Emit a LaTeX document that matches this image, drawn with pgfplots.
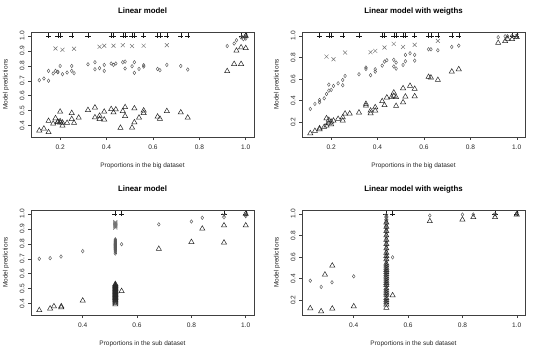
\documentclass[border=0pt]{standalone}
\usepackage{fontspec}
\setmainfont{Liberation Sans}
\usepackage{pgfplots}
\pgfplotsset{compat=1.18}

\pgfplotsset{
  rpanel/.style={
    scale only axis, width=223bp, height=105bp, anchor=south west,
    axis line style={black!75, line width=0.6bp},
    tick style={black!75, line width=0.5bp},
    tick align=outside, tick pos=left, major tick length=3bp,
    tick label style={font=\fontsize{6.6}{7}\selectfont, text=black!85},
    yticklabel style={rotate=90, anchor=south},
    xticklabel style={yshift=-1.5bp},
    /pgf/number format/.cd, fixed, fixed zerofill, precision=1, assume math mode=true, /pgfplots/.cd,
    title style={at={(axis description cs:0.5,1.143)}, anchor=center, font=\bfseries\fontsize{7.9}{9}\selectfont},
    xlabel style={at={(axis description cs:0.5,-0.276)}, anchor=center, font=\fontsize{6.5}{8}\selectfont, text=black!85},
    ylabel style={at={(axis description cs:-0.112,0.5)}, anchor=center, font=\fontsize{6.5}{8}\selectfont, text=black!85},
    ylabel={Model predictions},
    clip=false,
  },
  pplus/.style={only marks, mark=+, mark size=2.6bp, black!90, mark options={line width=0.4bp}},
  pcross/.style={only marks, mark=x, mark size=2.8bp, black!55, mark options={line width=0.45bp}},
  pdiam/.style={only marks, mark=diamond, mark size=1.8bp, black!65, mark options={line width=0.45bp, fill=none}},
  ptri/.style={only marks, mark=triangle, mark size=3bp, black!85, mark options={line width=0.5bp, fill=none}},
}

\begin{document}
\begin{tikzpicture}[x=1bp,y=1bp]
\useasboundingbox (0,0) rectangle (540,356);

% ---------- Panel 1 ----------
\begin{axis}[rpanel, at={(31bp,219bp)},
  xmin=0.0744, xmax=1.0356, ymin=0.324, ymax=1.026,
  xtick={0.2,0.4,0.6,0.8,1.0}, ytick={0.4,0.5,0.6,0.7,0.8,0.9,1.0},
  title={Linear model}, xlabel={Proportions in the big dataset}]
\addplot[pplus] coordinates {(0.15,1)(0.19,1)(0.20,1)(0.25,1)(0.32,1)(0.42,1)(0.43,1)(0.47,1)(0.48,1)(0.51,1)(0.52,1)(0.56,1)(0.62,1)(0.63,1)(0.66,1)(0.72,1)(0.75,1)(0.98,1)(1.0,1)};
\addplot[pcross] coordinates {(0.18,0.916)(0.21,0.907)(0.26,0.914)(0.37,0.927)(0.39,0.934)(0.43,0.934)(0.47,0.938)(0.51,0.932)(0.56,0.934)(0.66,0.938)(0.99,0.995)(1.0,1.0)};
\addplot[pdiam] coordinates {(0.11,0.704)(0.13,0.715)(0.15,0.700)(0.15,0.766)(0.17,0.749)(0.18,0.766)(0.19,0.760)(0.19,0.757)(0.20,0.799)(0.21,0.744)(0.23,0.755)(0.25,0.799)(0.25,0.766)(0.26,0.751)(0.32,0.810)(0.35,0.824)(0.35,0.777)(0.37,0.784)(0.39,0.806)(0.39,0.766)(0.42,0.815)(0.43,0.806)(0.44,0.815)(0.47,0.824)(0.48,0.828)(0.48,0.782)(0.51,0.797)(0.52,0.824)(0.52,0.753)(0.54,0.779)(0.56,0.804)(0.56,0.795)(0.62,0.779)(0.63,0.771)(0.66,0.806)(0.72,0.799)(0.75,0.775)(0.92,0.932)(0.95,0.949)(0.96,0.971)(0.98,0.989)(1.0,0.982)(1.0,0.996)(0.99,0.978)};
\addplot[ptri] coordinates {(0.11,0.367)(0.13,0.380)(0.15,0.356)(0.15,0.431)(0.17,0.413)(0.18,0.449)(0.19,0.426)(0.19,0.424)(0.20,0.429)(0.20,0.420)(0.21,0.42)(0.20,0.493)(0.21,0.400)(0.23,0.418)(0.25,0.484)(0.25,0.444)(0.26,0.418)(0.28,0.453)(0.32,0.504)(0.35,0.521)(0.35,0.455)(0.37,0.466)(0.37,0.444)(0.39,0.440)(0.39,0.493)(0.42,0.510)(0.43,0.488)(0.44,0.508)(0.46,0.385)(0.47,0.497)(0.48,0.523)(0.48,0.464)(0.51,0.387)(0.52,0.515)(0.52,0.422)(0.54,0.453)(0.56,0.501)(0.56,0.484)(0.62,0.460)(0.63,0.446)(0.66,0.497)(0.72,0.488)(0.75,0.453)(0.92,0.764)(0.95,0.812)(0.96,0.901)(0.98,0.812)(0.98,0.923)(1.0,0.918)(1.0,1.0)};
\end{axis}

% ---------- Panel 2 ----------
\begin{axis}[rpanel, at={(302bp,219bp)},
  xmin=0.0744, xmax=1.0356, ymin=0.064, ymax=1.036,
  xtick={0.2,0.4,0.6,0.8,1.0}, ytick={0.2,0.4,0.6,0.8,1.0},
  title={Linear model with weigths}, xlabel={Proportions in the big dataset}]
\addplot[pplus] coordinates {(0.15,1)(0.19,1)(0.20,1)(0.25,1)(0.32,1)(0.42,1)(0.43,1)(0.47,1)(0.48,1)(0.51,1)(0.52,1)(0.56,1)(0.62,1)(0.63,1)(0.66,1)(0.72,1)(0.75,1)(0.98,1)(1.0,1)};
\addplot[pcross] coordinates {(0.18,0.808)(0.21,0.784)(0.26,0.846)(0.37,0.849)(0.39,0.861)(0.43,0.892)(0.47,0.926)(0.51,0.898)(0.56,0.917)(0.66,0.954)(0.98,0.99)(1.0,1.0)};
\addplot[pdiam] coordinates {(0.11,0.324)(0.13,0.370)(0.15,0.385)(0.15,0.407)(0.17,0.422)(0.18,0.462)(0.19,0.549)(0.19,0.493)(0.20,0.500)(0.21,0.537)(0.23,0.561)(0.25,0.592)(0.25,0.543)(0.26,0.629)(0.32,0.645)(0.35,0.707)(0.35,0.694)(0.37,0.636)(0.39,0.691)(0.39,0.669)(0.42,0.725)(0.43,0.762)(0.44,0.775)(0.47,0.778)(0.47,0.717)(0.48,0.753)(0.48,0.697)(0.51,0.731)(0.52,0.765)(0.52,0.824)(0.54,0.839)(0.56,0.824)(0.56,0.771)(0.62,0.876)(0.63,0.876)(0.66,0.867)(0.72,0.898)(0.75,0.910)(0.92,0.988)(0.95,0.997)(0.96,0.997)(0.98,1.0)(1.0,0.99)};
\addplot[ptri] coordinates {(0.11,0.098)(0.13,0.120)(0.15,0.135)(0.15,0.144)(0.17,0.157)(0.18,0.169)(0.18,0.237)(0.19,0.222)(0.19,0.191)(0.20,0.181)(0.20,0.206)(0.21,0.215)(0.23,0.231)(0.25,0.215)(0.25,0.246)(0.26,0.280)(0.28,0.280)(0.32,0.290)(0.35,0.370)(0.35,0.354)(0.37,0.283)(0.37,0.308)(0.39,0.339)(0.39,0.308)(0.42,0.395)(0.43,0.358)(0.44,0.429)(0.46,0.432)(0.47,0.475)(0.47,0.444)(0.48,0.351)(0.48,0.432)(0.51,0.385)(0.51,0.515)(0.52,0.438)(0.54,0.537)(0.56,0.441)(0.56,0.509)(0.62,0.620)(0.63,0.614)(0.66,0.592)(0.72,0.669)(0.75,0.691)(0.92,0.935)(0.95,0.951)(0.96,0.972)(0.98,0.969)(1.0,0.988)};
\end{axis}

% ---------- Panel 3 ----------
\begin{axis}[rpanel, at={(31bp,41bp)},
  xmin=0.2096, xmax=1.0304, ymin=0.324, ymax=1.026,
  xtick={0.4,0.6,0.8,1.0}, ytick={0.4,0.5,0.6,0.7,0.8,0.9,1.0},
  title={Linear model}, xlabel={Proportions in the sub dataset}]
\addplot[pplus] coordinates {(0.518,1)(0.543,1)(0.92,1)(1.0,1)};
\addplot[pcross] coordinates {(0.52,0.908)(0.52,0.915)(0.52,0.92)(0.52,0.925)(0.52,0.93)(0.52,0.935)(0.52,0.94)(0.52,0.945)(0.92,0.99)(1.0,1.0)};
\addplot[pdiam] coordinates {(0.24,0.700)(0.28,0.704)(0.32,0.715)(0.40,0.751)(0.543,0.797)(0.68,0.930)(0.80,0.949)(0.84,0.974)(0.92,0.978)(1.0,0.985)(1.0,0.995)
(0.52,0.735)(0.52,0.745)(0.52,0.752)(0.52,0.758)(0.52,0.762)(0.52,0.766)(0.52,0.770)(0.52,0.774)(0.52,0.777)(0.52,0.780)(0.52,0.783)(0.52,0.786)(0.52,0.789)(0.52,0.792)(0.52,0.795)(0.52,0.798)(0.52,0.801)(0.52,0.804)(0.52,0.808)(0.52,0.812)(0.52,0.816)(0.52,0.820)(0.52,0.825)(0.52,0.830)};
\addplot[ptri] coordinates {(0.24,0.356)(0.28,0.367)(0.294,0.382)(0.321,0.382)(0.321,0.375)(0.40,0.420)(0.543,0.484)(0.68,0.766)(0.80,0.812)(0.84,0.901)(0.92,0.923)(0.92,0.808)(1.0,0.923)(1.0,1.0)
(0.52,0.395)(0.52,0.405)(0.52,0.412)(0.52,0.418)(0.52,0.423)(0.52,0.428)(0.52,0.433)(0.52,0.437)(0.52,0.441)(0.52,0.445)(0.52,0.449)(0.52,0.453)(0.52,0.457)(0.52,0.461)(0.52,0.465)(0.52,0.469)(0.52,0.473)(0.52,0.477)(0.52,0.481)(0.52,0.485)(0.52,0.489)(0.52,0.493)(0.52,0.497)(0.52,0.501)(0.52,0.505)(0.52,0.509)(0.52,0.513)(0.52,0.517)(0.52,0.521)(0.52,0.526)(0.52,0.531)};
\end{axis}

% ---------- Panel 4 ----------
\begin{axis}[rpanel, at={(302bp,41bp)},
  xmin=0.2096, xmax=1.0304, ymin=0.064, ymax=1.036,
  xtick={0.4,0.6,0.8,1.0}, ytick={0.2,0.4,0.6,0.8,1.0},
  title={Linear model with weigths}, xlabel={Proportions in the sub dataset}]
\addplot[pplus] coordinates {(0.518,1)(0.543,1)(0.92,1)(1.0,1)};
\addplot[pcross] coordinates {(0.52,0.86)(0.52,0.90)(0.52,0.93)(0.52,0.96)(0.52,0.98)(0.92,0.99)(1.0,1.0)};
\addplot[pdiam] coordinates {(0.24,0.382)(0.28,0.324)(0.32,0.367)(0.40,0.422)(0.543,0.598)(0.68,0.985)(0.80,0.994)(0.84,0.994)(0.92,0.997)(1.0,1.0)
(0.52,0.17)(0.52,0.19)(0.52,0.21)(0.52,0.24)(0.52,0.26)(0.52,0.28)(0.52,0.30)(0.52,0.33)(0.52,0.35)(0.52,0.37)(0.52,0.39)(0.52,0.41)(0.52,0.43)(0.52,0.45)(0.52,0.47)(0.52,0.49)(0.52,0.51)(0.52,0.53)(0.52,0.55)(0.52,0.57)(0.52,0.59)(0.52,0.61)(0.52,0.63)(0.52,0.65)(0.52,0.67)(0.52,0.69)(0.52,0.71)(0.52,0.73)(0.52,0.75)(0.52,0.77)(0.52,0.79)(0.52,0.81)(0.52,0.83)(0.52,0.85)(0.52,0.87)(0.52,0.89)(0.52,0.91)(0.52,0.93)(0.52,0.95)(0.52,0.97)(0.52,0.99)};
\addplot[ptri] coordinates {(0.24,0.126)(0.28,0.098)(0.294,0.438)(0.321,0.521)(0.321,0.123)(0.40,0.144)(0.543,0.246)(0.68,0.932)(0.80,0.947)(0.84,0.969)(0.92,0.969)(1.0,0.994)
(0.52,0.13)(0.52,0.16)(0.52,0.18)(0.52,0.20)(0.52,0.22)(0.52,0.25)(0.52,0.27)(0.52,0.29)(0.52,0.31)(0.52,0.34)(0.52,0.36)(0.52,0.38)(0.52,0.40)(0.52,0.42)(0.52,0.44)(0.52,0.46)(0.52,0.48)(0.52,0.50)(0.52,0.52)(0.52,0.54)(0.52,0.58)(0.52,0.61)(0.52,0.64)(0.52,0.68)(0.52,0.72)(0.52,0.76)(0.52,0.80)(0.52,0.84)(0.52,0.88)(0.52,0.92)};
\end{axis}
\end{tikzpicture}
\end{document}
